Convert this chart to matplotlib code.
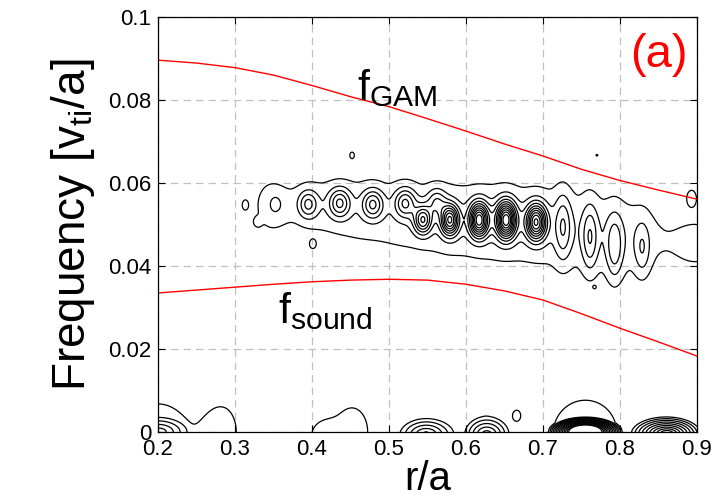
import numpy as np
import matplotlib
matplotlib.use("Agg")
import matplotlib.pyplot as plt

plt.rcParams['font.family'] = ['Liberation Sans', 'DejaVu Sans']
plt.rcParams['mathtext.fontset'] = 'custom'
plt.rcParams['mathtext.rm'] = 'Liberation Sans'
plt.rcParams['mathtext.it'] = 'Liberation Sans'

# ---- red reference curves ----
r_curve = [0.2, 0.25, 0.3, 0.35, 0.4, 0.45, 0.5, 0.55, 0.6, 0.65, 0.7, 0.75, 0.8, 0.85, 0.9]
f_gam = [0.0896, 0.0889, 0.0878, 0.0860, 0.0835, 0.0808, 0.0784, 0.0755, 0.0725,
         0.0694, 0.0665, 0.0633, 0.0606, 0.0583, 0.0561]
f_sound = [0.0335, 0.0342, 0.0349, 0.0356, 0.0362, 0.0366, 0.0368, 0.0366, 0.0356,
           0.0340, 0.0318, 0.0285, 0.0250, 0.0217, 0.0183]

# ---- spectral field: smooth (gaussian) components ----
g_r   = [0.345, 0.40, 0.46, 0.52, 0.58, 0.64, 0.70, 0.76, 0.82, 0.90,
         0.353, 0.395, 0.436, 0.479, 0.521, 0.562,
         0.544, 0.579, 0.617, 0.652, 0.691,
         0.726, 0.761, 0.793, 0.829,
         0.313, 0.329, 0.401, 0.452, 0.893, 0.770, 0.767, 0.666,
         0.200, 0.285, 0.452, 0.412, 0.755, 0.625]
g_f   = [0.0545, 0.0545, 0.0532, 0.0520, 0.0510, 0.0505, 0.0495, 0.0480, 0.0470, 0.0455,
         0.0549, 0.0549, 0.0552, 0.0549, 0.0552, 0.0555,
         0.0511, 0.0511, 0.0511, 0.0511, 0.0506,
         0.0495, 0.0468, 0.0445, 0.0442,
         0.0547, 0.0506, 0.0452, 0.0667, 0.0565, 0.0667, 0.0349, 0.0040,
         0.0000, 0.0000, 0.0000, -0.0010, 0.0000, 0.0000]
g_amp = [1.30, 1.30, 1.30, 1.30, 1.45, 1.55, 1.45, 1.30, 1.30, 1.30,
         0.9, 3.0, 3.8, 3.8, 3.8, 2.6,
         5.5, 7.5, 9.0, 10.0, 8.5,
         2.5, 2.5, 2.5, 1.8,
         1.35, 1.25, 1.25, 1.30, 1.45, 1.10, 1.10, 1.30,
         1.50, 1.25, 1.30, 1.15, 1.50, 1.20]
g_wr  = [0.018, 0.030, 0.030, 0.030, 0.030, 0.030, 0.030, 0.030, 0.030, 0.030,
         0.0060, 0.0085, 0.0095, 0.0095, 0.0095, 0.0085,
         0.0080, 0.0080, 0.0085, 0.0090, 0.0090,
         0.0075, 0.0070, 0.0075, 0.0070,
         0.0035, 0.0035, 0.0035, 0.0030, 0.0055, 0.0020, 0.0015, 0.0035,
         0.040, 0.022, 0.028, 0.014, 0.045, 0.030]
g_wf  = [0.0055, 0.0056, 0.0066, 0.0072, 0.0075, 0.0078, 0.0080, 0.0080, 0.0078, 0.0058,
         0.0016, 0.0022, 0.0024, 0.0024, 0.0024, 0.0022,
         0.0023, 0.0025, 0.0028, 0.0030, 0.0029,
         0.0055, 0.0055, 0.0055, 0.0045,
         0.0011, 0.0008, 0.0009, 0.0008, 0.0017, 0.0003, 0.0003, 0.0009,
         0.0075, 0.0072, 0.0080, 0.0030, 0.0085, 0.0060]

# ---- spectral field: peaked (cone) components near zero frequency ----
c_r   = [0.200, 0.548, 0.627, 0.755, 0.861]
c_f   = [0.0000, -0.0008, -0.0008, 0.0000, -0.0005]
c_amp = [4.6, 6.0, 5.0, 23.0, 11.0]
c_wr  = [0.047, 0.040, 0.030, 0.048, 0.048]
c_wf  = [0.0041, 0.0048, 0.0045, 0.0037, 0.0045]

levels = np.arange(1, 15)

r = np.linspace(0.2, 0.9, 561)
f = np.linspace(0.0, 0.1, 801)
R, F = np.meshgrid(r, f)
Z = np.zeros_like(R)
for r0, f0, a, wr, wf in zip(g_r, g_f, g_amp, g_wr, g_wf):
    Z += a * np.exp(-0.5 * (((R - r0) / wr) ** 2 + ((F - f0) / wf) ** 2))
for r0, f0, a, wr, wf in zip(c_r, c_f, c_amp, c_wr, c_wf):
    d = np.sqrt(((R - r0) / wr) ** 2 + ((F - f0) / wf) ** 2)
    Z += a * np.clip(1.0 - d, 0, None)

fig = plt.figure(figsize=(7.19, 5.04), dpi=100)
ax = fig.add_axes([158 / 719, 72 / 504, 539 / 719, 415 / 504])

ax.contour(R, F, Z, levels=levels, colors='black', linewidths=0.9)
ax.plot(r_curve, f_gam, color='red', lw=1.0)
ax.plot(r_curve, f_sound, color='red', lw=1.0)

ax.set_xlim(0.2, 0.9)
ax.set_ylim(0, 0.1)
ax.set_xticks([0.2, 0.3, 0.4, 0.5, 0.6, 0.7, 0.8, 0.9])
ax.set_xticklabels(['0.2', '0.3', '0.4', '0.5', '0.6', '0.7', '0.8', '0.9'])
ax.set_yticks([0, 0.02, 0.04, 0.06, 0.08, 0.1])
ax.set_yticklabels(['0', '0.02', '0.04', '0.06', '0.08', '0.1'])
ax.grid(True, color='#c0c0c0', linestyle=(0, (6, 4)), linewidth=0.9)
ax.set_axisbelow(True)
ax.tick_params(direction='in', length=5, width=0.8, labelsize=16, top=True, right=True, pad=5)
for s in ax.spines.values():
    s.set_linewidth(0.9)

ax.set_xlabel('r/a', fontsize=29, labelpad=0)
ax.set_ylabel('Frequency [v$_{\\mathrm{ti}}$/a]', fontsize=33, labelpad=8)

ax.text(0.458, 0.0800, '$\\mathrm{f}_{\\mathrm{GAM}}$', fontsize=31, ha='left', va='baseline')
ax.text(0.356, 0.0263, '$\\mathrm{f}_{\\mathrm{sound}}$', fontsize=31, ha='left', va='baseline')
ax.text(0.888, 0.0880, '(a)', color='red', fontsize=34, ha='right', va='baseline')

fig.savefig('out.png', dpi=100)
